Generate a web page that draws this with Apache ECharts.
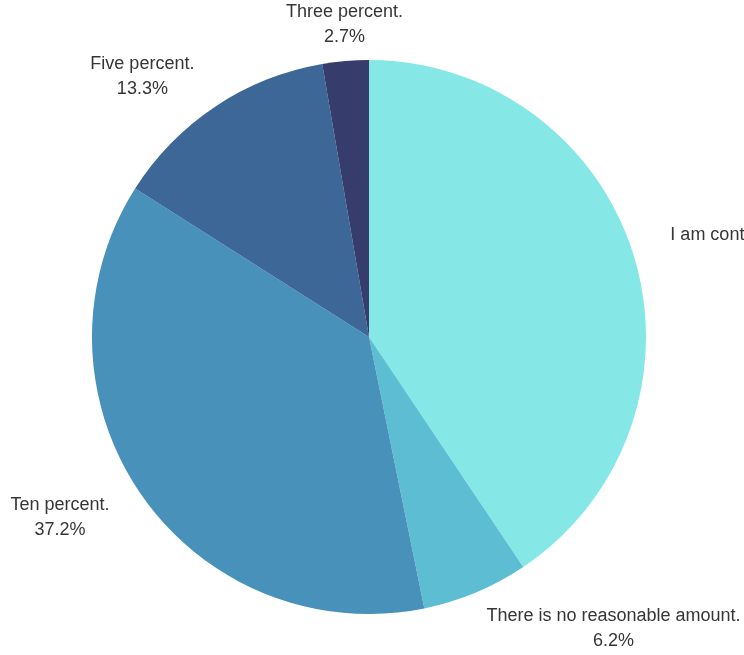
<!DOCTYPE html>
<html>
<head>
<meta charset="utf-8">
<style>
  html, body { margin: 0; padding: 0; background: #ffffff; }
  #chart { width: 744px; height: 655px; }
</style>
<script src="https://cdn.jsdelivr.net/npm/echarts@6/dist/echarts.min.js"></script>
</head>
<body>
<div id="chart"></div>
<script>
// Answer options, in clockwise order starting at 12 o'clock
const categories = [
  'I am contributing what I can afford.',
  'There is no reasonable amount.',
  'Ten percent.',
  'Five percent.',
  'Three percent.'
];
// Share of responses, percent
const shares = [40.6, 6.2, 37.2, 13.3, 2.7];
const sliceColors = ['#86e8e6', '#5dbdd3', '#4791ba', '#3c6796', '#363c6c'];

const CX = 369, CY = 337, R = 277;
const total = shares.reduce((a, b) => a + b, 0);

// Place each label just outside its slice: the label box is anchored by the
// edge (or corner) that faces the pie, along the slice's bisector.
function placeLabel(params) {
  const i = params.dataIndex;
  let before = 0;
  for (let j = 0; j < i; j++) before += shares[j];
  const mid = (before + shares[i] / 2) / total * Math.PI * 2;
  const dx = Math.sin(mid), dy = -Math.cos(mid);
  const hEdge = Math.abs(dx) > 0.3;
  const vEdge = Math.abs(dy) > 0.9;
  const d = R + (vEdge ? 12 : 38);
  return {
    x: CX + dx * d + (hEdge && vEdge ? (dx > 0 ? 6 : -6) : 0),
    y: CY + dy * d + (vEdge ? 0 : 2),
    align: hEdge ? (dx > 0 ? 'left' : 'right') : 'center',
    verticalAlign: vEdge ? (dy > 0 ? 'top' : 'bottom') : 'middle'
  };
}

const chart = echarts.init(document.getElementById('chart'), null, { renderer: 'canvas' });
chart.setOption({
  backgroundColor: '#ffffff',
  animation: false,
  series: [{
    type: 'pie',
    center: [CX, CY],
    radius: [0, R],
    startAngle: 90,
    clockwise: true,
    avoidLabelOverlap: false,
    label: {
      show: true,
      position: 'outside',
      formatter: p => '{t|' + p.name + '}\n{t|' + p.value.toFixed(1) + '%}',
      rich: {
        t: {
          align: 'center',
          fontFamily: 'Liberation Sans, Arial, sans-serif',
          fontSize: 18,
          lineHeight: 25,
          color: '#363636'
        }
      }
    },
    labelLine: { show: false },
    labelLayout: placeLabel,
    itemStyle: { borderWidth: 0 },
    emphasis: { disabled: true },
    data: categories.map((name, i) => ({
      name: name,
      value: shares[i],
      itemStyle: { color: sliceColors[i] }
    }))
  }]
});
</script>
</body>
</html>
